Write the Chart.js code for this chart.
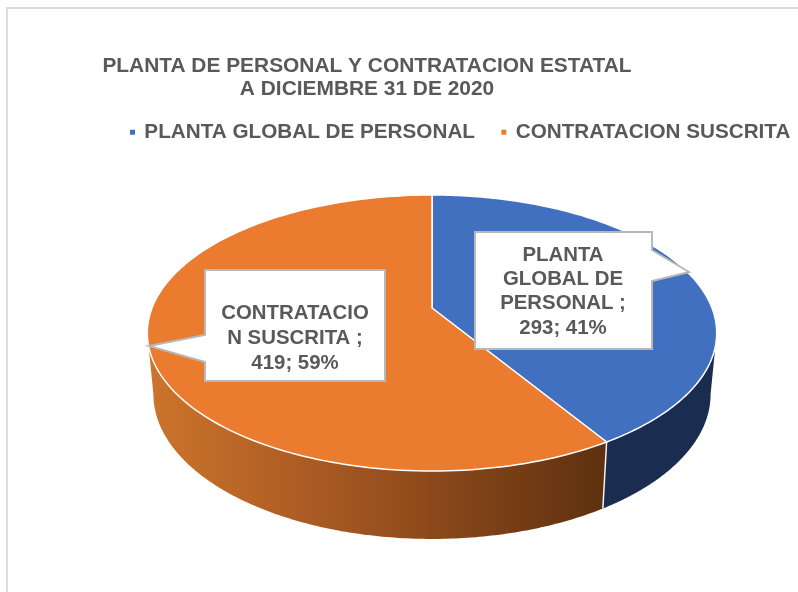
<!DOCTYPE html>
<html>
<head>
<meta charset="utf-8">
<title>Planta de personal</title>
<script src="https://cdn.jsdelivr.net/npm/chart.js@4/dist/chart.umd.js"></script>
<style>
html, body { margin: 0; padding: 0; background: #fff; overflow: hidden; }
#wrap { position: relative; width: 798px; height: 592px; }
#frame { position: absolute; left: 6px; top: 7px; right: 0; bottom: 0; border-top: 2px solid #dcdcdc; border-left: 2px solid #dcdcdc; }
canvas { position: absolute; left: 0; top: 0; }
</style>
</head>
<body>
<div id="wrap">
<div id="frame"></div>
<canvas id="pie-chart" width="798" height="592"></canvas>
</div>
<script>
// datos del grafico
var categories = ['PLANTA GLOBAL DE PERSONAL', 'CONTRATACION SUSCRITA'];
var values = [293, 419];
var percents = ['41%', '59%'];
var titleLines = ['PLANTA DE PERSONAL Y CONTRATACION ESTATAL', 'A DICIEMBRE 31 DE 2020'];
var labelLines = [['PLANTA', 'GLOBAL DE', 'PERSONAL ;'], ['CONTRATACIO', 'N SUSCRITA ;']];

var topColors = ['#4270c0', '#ea7b2f'];
var textColor = '#595959';
var fontName = '"Liberation Sans", Arial, sans-serif';

// perspectiva del disco: el centro queda mas arriba que el centro de la elipse
var persp = 0.181;
var topDisc = { cx: 432, cy: 308, a: 280, b: 133.5 };
var lowDisc = { cx: 432, cy: 368, a: 274, b: 140 };
var wallFrom = 10.4 * Math.PI / 180;
var wallTo = 169.6 * Math.PI / 180;

var callouts = [
    { box: [475, 232, 652, 349], tip: [[652, 250], [689, 272], [652, 281]], textX: 563, textY: 255, lineH: 24.4 },
    { box: [205, 270, 385, 381], tip: [[205, 335], [149, 346], [205, 362]], textX: 295, textY: 313, lineH: 25.3 }
];

function project(disc, angle) {
    var u = Math.cos(angle), v = Math.sin(angle);
    var w = 1 - persp * v;
    return [disc.cx + disc.a * u / w, disc.cy + disc.b * v / w];
}

function rimPath(ctx, disc, from, to) {
    var steps = 160;
    for (var i = 0; i <= steps; i++) {
        var p = project(disc, from + (to - from) * i / steps);
        ctx.lineTo(p[0], p[1]);
    }
}

function wallFill(ctx, index) {
    if (index === 0) return '#1a2d50';
    var g = ctx.createLinearGradient(150, 0, 607, 0);
    g.addColorStop(0, '#cc742c');
    g.addColorStop(0.35, '#ab5b23');
    g.addColorStop(1, '#5e300f');
    return g;
}

var pie3d = {
    id: 'pie3d',
    afterLayout: function (chart) {
        chart.titleBlock.left = 67;
        chart.titleBlock.right = 667;
        chart.titleBlock.top = 55;
        chart.legend.left = 131 - 27.4;
        chart.legend.right = 2000;
        chart.legend.top = 94.5;
        chart.legend.bottom = 170;
    },
    beforeDatasetsDraw: function (chart) {
        var ctx = chart.ctx;
        var arcs = chart.getDatasetMeta(0).data;
        ctx.save();
        ctx.lineJoin = 'round';

        // pared lateral
        arcs.forEach(function (arc, i) {
            var from = Math.max(arc.startAngle, wallFrom);
            var to = Math.min(arc.endAngle, wallTo);
            if (to <= from) return;
            ctx.beginPath();
            rimPath(ctx, topDisc, from, to);
            rimPath(ctx, lowDisc, to, from);
            ctx.closePath();
            ctx.fillStyle = wallFill(ctx, i);
            ctx.fill();
        });

        // separacion entre las paredes
        var cut = arcs[0].endAngle;
        var a = project(topDisc, cut), b = project(lowDisc, cut);
        ctx.strokeStyle = '#f4f1ee';
        ctx.lineWidth = 1.5;
        ctx.beginPath();
        ctx.moveTo(a[0], a[1]);
        ctx.lineTo(b[0], b[1]);
        ctx.stroke();

        // cara superior
        arcs.forEach(function (arc, i) {
            ctx.beginPath();
            ctx.moveTo(topDisc.cx, topDisc.cy);
            rimPath(ctx, topDisc, arc.startAngle, arc.endAngle);
            ctx.closePath();
            ctx.fillStyle = topColors[i];
            ctx.fill();
            ctx.strokeStyle = '#ffffff';
            ctx.lineWidth = 1.5;
            ctx.stroke();
        });
        ctx.restore();
        return false;
    },
    afterDraw: function (chart) {
        var ctx = chart.ctx;
        ctx.save();
        callouts.forEach(function (c, i) {
            ctx.beginPath();
            ctx.moveTo(c.box[0], c.box[1]);
            if (c.tip[0][0] === c.box[2]) {
                ctx.lineTo(c.box[2], c.box[1]);
                c.tip.forEach(function (p) { ctx.lineTo(p[0], p[1]); });
                ctx.lineTo(c.box[2], c.box[3]);
                ctx.lineTo(c.box[0], c.box[3]);
            } else {
                ctx.lineTo(c.box[2], c.box[1]);
                ctx.lineTo(c.box[2], c.box[3]);
                ctx.lineTo(c.box[0], c.box[3]);
                c.tip.slice().reverse().forEach(function (p) { ctx.lineTo(p[0], p[1]); });
            }
            ctx.closePath();
            ctx.fillStyle = '#ffffff';
            ctx.fill();
            ctx.strokeStyle = '#b8b8b8';
            ctx.lineWidth = 2;
            ctx.stroke();

            var lines = labelLines[i].concat(values[i] + '; ' + percents[i]);
            ctx.fillStyle = textColor;
            ctx.font = 'bold 20.4px ' + fontName;
            ctx.textAlign = 'center';
            ctx.textBaseline = 'middle';
            lines.forEach(function (line, n) {
                ctx.fillText(line, c.textX, c.textY + n * c.lineH);
            });
        });
        ctx.restore();
    }
};

var ctx = document.getElementById('pie-chart').getContext('2d');
var pieChart = new Chart(ctx, {
    type: 'pie',
    data: {
        labels: categories,
        datasets: [{
            data: values,
            backgroundColor: topColors,
            borderColor: topColors,
            borderWidth: 2
        }]
    },
    options: {
        responsive: false,
        animation: false,
        plugins: {
            title: {
                display: true,
                text: titleLines,
                color: textColor,
                padding: 0,
                font: { family: fontName, size: 20.9, weight: 'bold', lineHeight: 1.1 }
            },
            legend: {
                display: true,
                position: 'top',
                align: 'start',
                labels: {
                    boxWidth: 3,
                    boxHeight: 3,
                    padding: 27.4,
                    color: textColor,
                    font: { family: fontName, size: 20.7, weight: 'bold' }
                }
            },
            tooltip: { enabled: false }
        }
    },
    plugins: [pie3d]
});
</script>
</body>
</html>
